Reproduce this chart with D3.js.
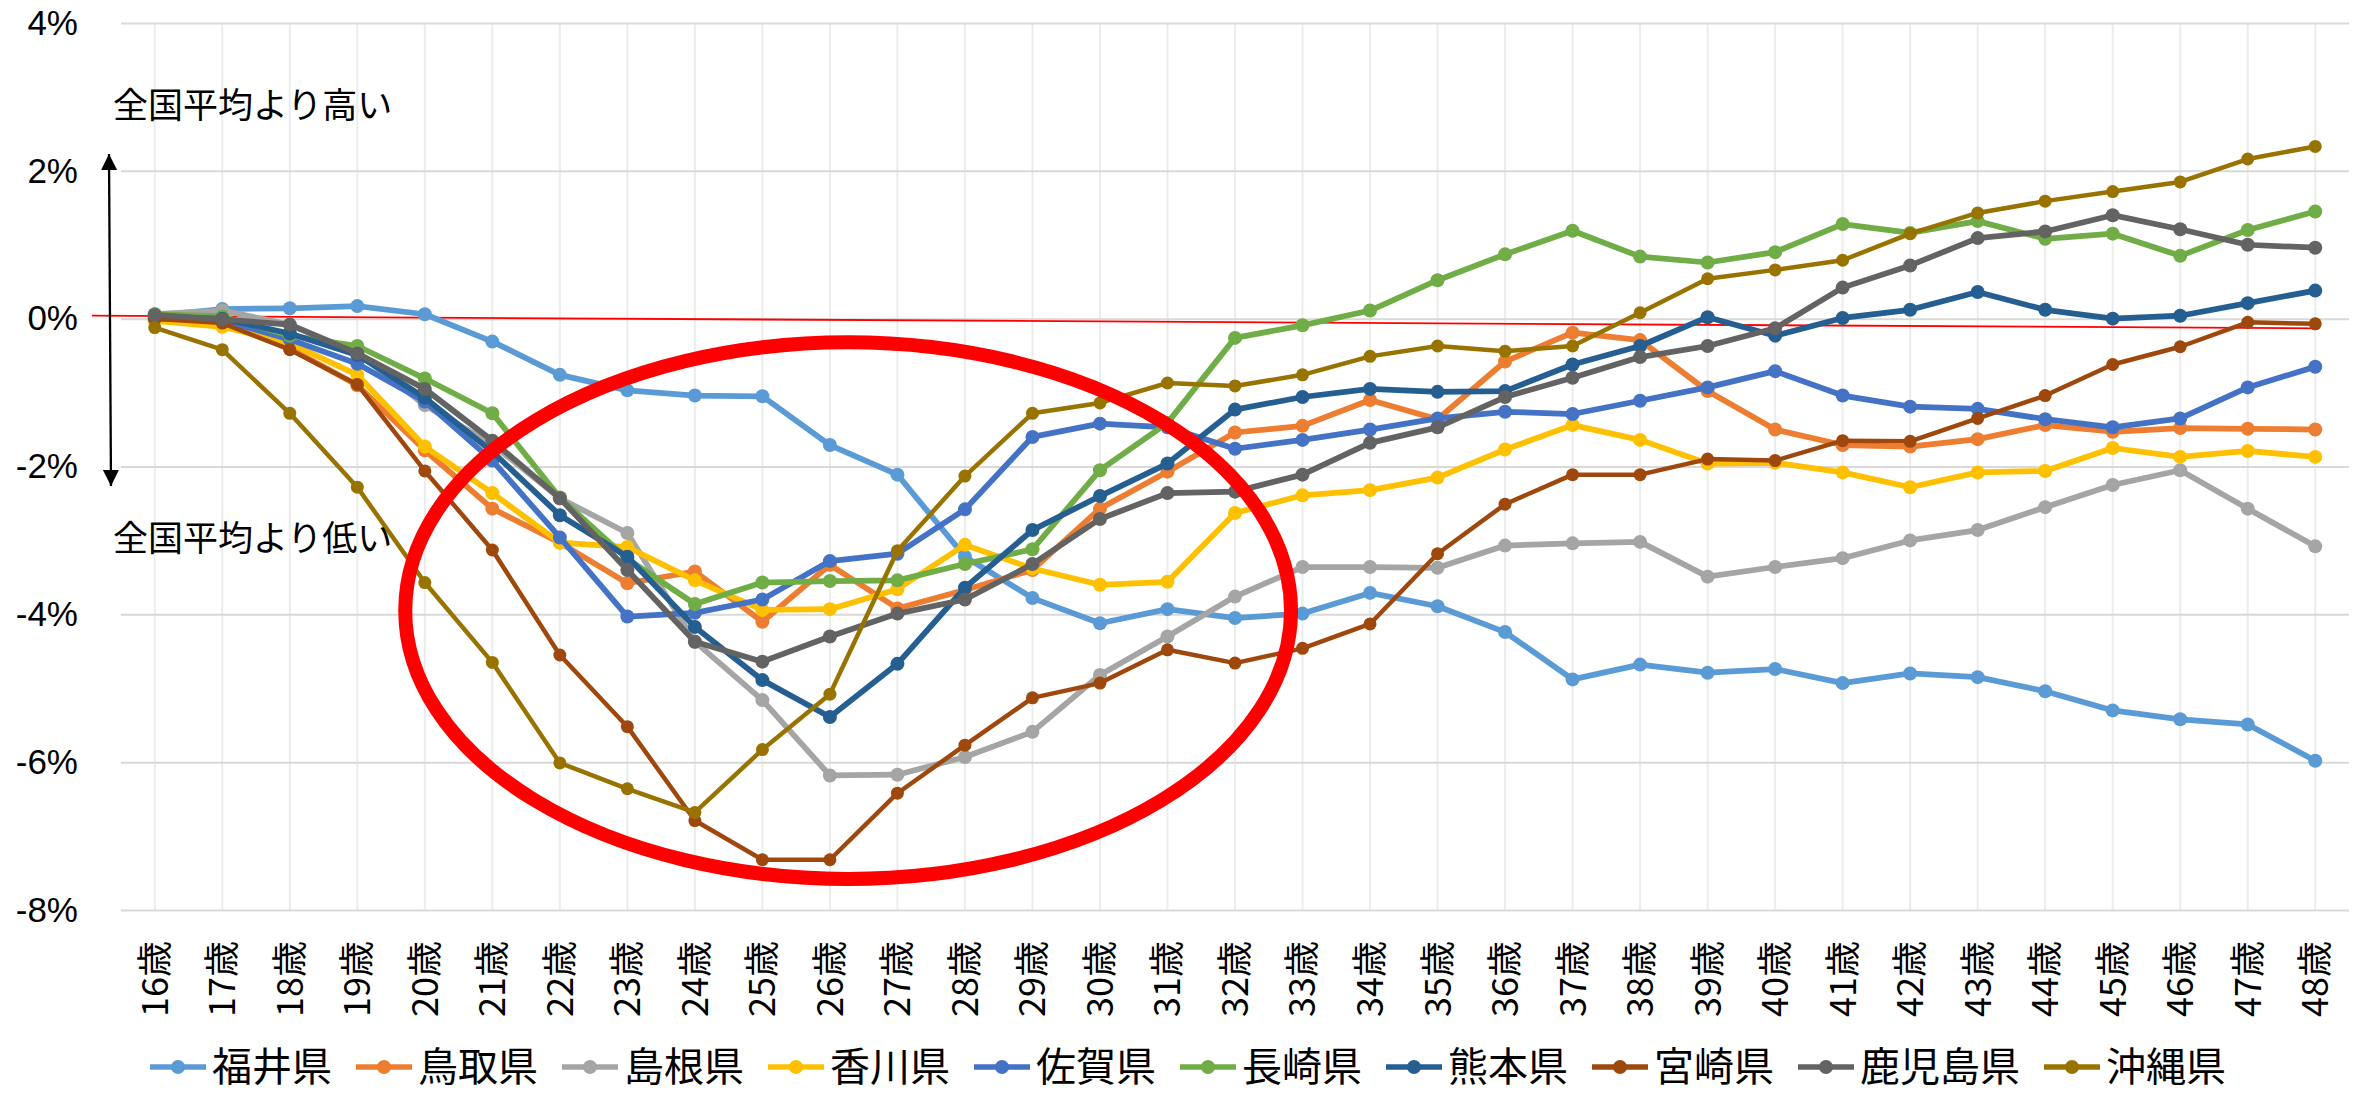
<!DOCTYPE html>
<html>
<head>
<meta charset="utf-8">
<script src="https://cdn.jsdelivr.net/npm/d3@7"></script>
<style>
body { margin: 0; background: #fff; }
svg { display: block; }
</style>
</head>
<body>
<svg width="2362" height="1095"></svg>
<script>
// categories (age)
const ages = ["16歳","17歳","18歳","19歳","20歳","21歳","22歳","23歳","24歳","25歳","26歳",
              "27歳","28歳","29歳","30歳","31歳","32歳","33歳","34歳","35歳","36歳","37歳",
              "38歳","39歳","40歳","41歳","42歳","43歳","44歳","45歳","46歳","47歳","48歳"];

const prefs = ["福井県","鳥取県","島根県","香川県","佐賀県","長崎県","熊本県","宮崎県","鹿児島県","沖縄県"];
const colors = ["#5B9BD5","#ED7D31","#A5A5A5","#FFC000","#4472C4","#70AD47","#255E91","#9E480E","#636363","#997300"];

// difference from national average, %
const fukui    = [0.04, 0.13, 0.14, 0.17, 0.06, -0.31, -0.76, -0.97, -1.04, -1.05, -1.71, -2.11, -3.22, -3.78, -4.12, -3.93, -4.05, -3.99, -3.71, -3.89, -4.24, -4.88, -4.68, -4.79, -4.74, -4.93, -4.80, -4.85, -5.04, -5.30, -5.42, -5.49, -5.98];
const tottori  = [-0.02, -0.06, -0.40, -0.90, -1.78, -2.57, -3.03, -3.58, -3.42, -4.10, -3.33, -3.92, -3.67, -3.40, -2.57, -2.07, -1.54, -1.45, -1.10, -1.36, -0.58, -0.19, -0.29, -0.98, -1.50, -1.71, -1.73, -1.63, -1.44, -1.53, -1.48, -1.49, -1.50];
const shimane  = [0.06, 0.11, -0.08, -0.46, -1.17, -1.70, -2.43, -2.90, -4.37, -5.16, -6.18, -6.17, -5.93, -5.59, -4.82, -4.30, -3.76, -3.36, -3.36, -3.37, -3.07, -3.04, -3.02, -3.49, -3.36, -3.24, -3.00, -2.86, -2.55, -2.25, -2.05, -2.57, -3.08];
const kagawa   = [-0.03, -0.11, -0.33, -0.76, -1.73, -2.36, -3.03, -3.09, -3.54, -3.94, -3.93, -3.66, -3.06, -3.38, -3.60, -3.56, -2.63, -2.39, -2.32, -2.15, -1.77, -1.44, -1.64, -1.96, -1.95, -2.08, -2.28, -2.08, -2.06, -1.75, -1.87, -1.79, -1.87];
const saga     = [0.00, -0.02, -0.28, -0.61, -1.12, -1.92, -2.96, -4.03, -3.98, -3.80, -3.28, -3.18, -2.58, -1.60, -1.42, -1.47, -1.76, -1.64, -1.50, -1.35, -1.26, -1.29, -1.11, -0.93, -0.71, -1.04, -1.19, -1.22, -1.36, -1.47, -1.35, -0.93, -0.65];
const nagasaki = [0.06, 0.03, -0.23, -0.37, -0.81, -1.28, -2.42, -3.25, -3.86, -3.57, -3.55, -3.54, -3.32, -3.12, -2.05, -1.41, -0.26, -0.09, 0.11, 0.52, 0.87, 1.19, 0.84, 0.76, 0.90, 1.28, 1.16, 1.32, 1.08, 1.15, 0.85, 1.20, 1.45];
const kumamoto = [0.02, 0.00, -0.20, -0.49, -1.07, -1.80, -2.66, -3.22, -4.17, -4.89, -5.39, -4.67, -3.64, -2.86, -2.40, -1.96, -1.23, -1.06, -0.95, -0.99, -0.98, -0.62, -0.37, 0.02, -0.23, 0.01, 0.12, 0.36, 0.12, 0.00, 0.04, 0.21, 0.38];
const miyazaki = [0.00, -0.06, -0.42, -0.89, -2.06, -3.13, -4.55, -5.52, -6.79, -7.32, -7.32, -6.42, -5.77, -5.13, -4.93, -4.48, -4.66, -4.46, -4.13, -3.18, -2.51, -2.11, -2.11, -1.90, -1.92, -1.65, -1.66, -1.35, -1.04, -0.62, -0.38, -0.05, -0.07];
const kagoshima= [0.05, -0.01, -0.08, -0.47, -0.95, -1.65, -2.43, -3.40, -4.37, -4.64, -4.30, -3.99, -3.80, -3.32, -2.71, -2.36, -2.34, -2.11, -1.68, -1.47, -1.06, -0.80, -0.52, -0.37, -0.13, 0.42, 0.72, 1.09, 1.18, 1.40, 1.21, 1.00, 0.96];
const okinawa  = [-0.12, -0.42, -1.28, -2.28, -3.57, -4.65, -6.01, -6.36, -6.68, -5.83, -5.08, -3.14, -2.13, -1.28, -1.14, -0.87, -0.91, -0.76, -0.51, -0.37, -0.44, -0.37, 0.08, 0.54, 0.66, 0.79, 1.15, 1.43, 1.59, 1.72, 1.85, 2.16, 2.33];

const yTicks = [-8, -6, -4, -2, 0, 2, 4];

const seriesValues = [fukui, tottori, shimane, kagawa, saga, nagasaki, kumamoto, miyazaki, kagoshima, okinawa];
const series = prefs.map((p, i) => ({name: p, color: colors[i], values: seriesValues[i], thin: p === "宮崎県" || p === "沖縄県"}));

const svg = d3.select("svg");
const plotLeft = 121, plotRight = 2349, plotTop = 23, plotBottom = 910;

const x = d3.scaleBand().domain(ages).range([plotLeft, plotRight]);
const cx = d => x(d) + x.bandwidth() / 2;
const y = d3.scaleLinear().domain([-8, 4]).range([plotBottom, plotTop]);
// age as a number, for the hand-drawn annotations
const ageX = d3.scaleLinear().domain([16, 48]).range([cx(ages[0]), cx(ages[ages.length - 1])]);

// vertical gridlines + x labels
const gx = svg.append("g")
    .attr("transform", `translate(0,${plotBottom})`)
    .call(d3.axisBottom(x).tickSize(-(plotBottom - plotTop)).tickSizeOuter(0));
gx.select(".domain").remove();
gx.selectAll(".tick line").attr("stroke", "#ececec").attr("stroke-width", 2);
gx.selectAll(".tick text")
    .attr("font-family", "'Noto Sans CJK JP', sans-serif")
    .attr("font-size", 36)
    .attr("fill", "#000")
    .attr("x", -31).attr("y", 0).attr("dy", "0.36em")
    .attr("transform", "rotate(-90)")
    .style("text-anchor", "end");

// horizontal gridlines + y labels
const gy = svg.append("g")
    .attr("transform", `translate(${plotLeft},0)`)
    .call(d3.axisLeft(y).tickValues(yTicks).tickFormat(d => d + "%")
        .tickSize(-(plotRight - plotLeft)).tickPadding(43));
gy.select(".domain").remove();
gy.selectAll(".tick line").attr("stroke", "#d9d9d9").attr("stroke-width", 2);
gy.selectAll(".tick text")
    .attr("font-family", "'Liberation Sans', sans-serif")
    .attr("font-size", 35)
    .attr("fill", "#000");

// red zero line (hand drawn, slightly tilted)
svg.append("line")
    .attr("x1", 92).attr("y1", y(0.04))
    .attr("x2", ageX(48) + 2).attr("y2", y(-0.13))
    .attr("stroke", "#ff0000").attr("stroke-width", 1.8);

// series
const line = d3.line().x((d, i) => cx(ages[i])).y(d => y(d));
const gs = svg.append("g");
series.forEach(s => {
    const g = gs.append("g");
    g.append("path")
        .attr("d", line(s.values))
        .attr("fill", "none")
        .attr("stroke", s.color)
        .attr("stroke-width", s.thin ? 4.5 : 5.75)
        .attr("stroke-linejoin", "round");
    g.selectAll("circle")
        .data(s.values)
        .enter().append("circle")
        .attr("cx", (d, i) => cx(ages[i]))
        .attr("cy", d => y(d))
        .attr("r", s.thin ? 6.5 : 7)
        .attr("fill", s.color);
});

// annotation arrow
const defs = svg.append("defs");
defs.append("marker").attr("id", "ah").attr("viewBox", "0 0 10 10")
    .attr("refX", 10).attr("refY", 5).attr("markerWidth", 7).attr("markerHeight", 8)
    .attr("markerUnits", "strokeWidth").attr("orient", "auto-start-reverse")
    .append("path").attr("d", "M0,0 L10,5 L0,10 Z").attr("fill", "#000");
svg.append("line")
    .attr("x1", 109).attr("y1", 154)
    .attr("x2", 111).attr("y2", 486)
    .attr("stroke", "#000").attr("stroke-width", 2.3)
    .attr("marker-start", "url(#ah)").attr("marker-end", "url(#ah)");

svg.append("text").text("全国平均より高い")
    .attr("x", 113).attr("y", 105).attr("dy", "0.36em")
    .attr("font-family", "'Noto Sans CJK JP', sans-serif").attr("font-size", 35);
svg.append("text").text("全国平均より低い")
    .attr("x", 113).attr("y", 538).attr("dy", "0.36em")
    .attr("font-family", "'Noto Sans CJK JP', sans-serif").attr("font-size", 35);

// red ellipse around the dip
svg.append("ellipse")
    .attr("cx", ageX(26.27)).attr("cy", y(-3.95))
    .attr("rx", ageX(16 + 6.56) - ageX(16)).attr("ry", y(0) - y(3.63))
    .attr("fill", "none").attr("stroke", "#ff0000").attr("stroke-width", 14);

// legend
const legendY = 1067;
const legend = svg.append("g");
let lx = 0;
series.forEach(s => {
    const g = legend.append("g").attr("transform", `translate(${lx},0)`);
    g.append("line").attr("x1", 0).attr("x2", 56).attr("y1", 0).attr("y2", 0)
        .attr("stroke", s.color).attr("stroke-width", 5.5);
    g.append("circle").attr("cx", 28).attr("cy", 0).attr("r", 7).attr("fill", s.color);
    const t = g.append("text").text(s.name)
        .attr("x", 62).attr("dy", "0.36em")
        .attr("font-family", "'Noto Sans CJK JP', sans-serif").attr("font-size", 40);
    lx += 62 + t.node().getComputedTextLength() + 24;
});
const legendW = lx - 24;
legend.attr("transform", `translate(${1188 - legendW / 2},${legendY})`);
</script>
</body>
</html>
